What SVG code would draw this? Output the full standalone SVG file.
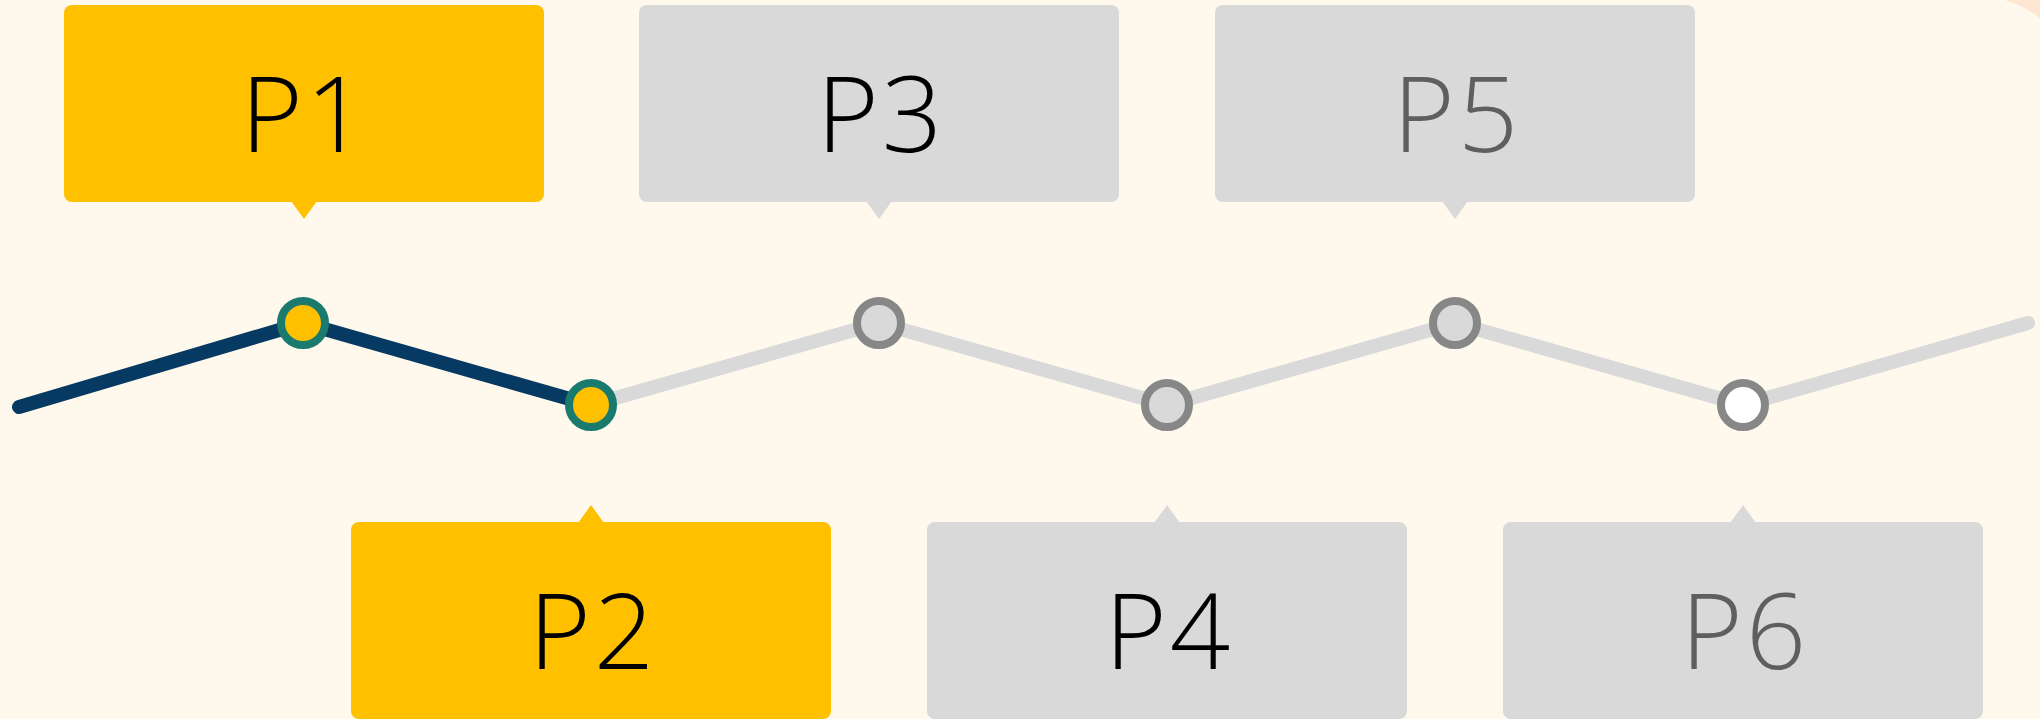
<svg xmlns="http://www.w3.org/2000/svg" width="2040" height="719" viewBox="0 0 2040 719">
<style>
.bg{fill:#fff8ed}
.box-on{fill:#ffc000}
.box-off{fill:#d9d9d9}
.lbl{font-family:"Open Sans","Noto Sans",sans-serif;font-weight:300;font-size:106px;letter-spacing:3px;text-anchor:middle}
.dark{fill:#000}
.dim{fill:#5f5f5f}
.ln-on{fill:none;stroke:#073a63;stroke-width:14;stroke-linecap:round;stroke-linejoin:round}
.ln-off{fill:none;stroke:#d9d9d9;stroke-width:14;stroke-linecap:round;stroke-linejoin:round}
.pt-on{fill:#ffc000;stroke:#1a7a6e;stroke-width:8}
.pt-off{fill:#d9d9d9;stroke:#878787;stroke-width:8}
.pt-last{fill:#ffffff;stroke:#878787;stroke-width:8}
</style>
<rect class="bg" x="0" y="0" width="2040" height="719"/>
<path d="M2005,0 L2040,0 L2040,18 Q2026,7 2005,0 Z" fill="#fde6d2"/>
<g id="connectors">
<polyline class="ln-on" points="19,407 303,323 591,405"/>
<polyline class="ln-off" points="591,405 879,323 1167,405 1455,323 1743,405 2028,323"/>
</g>
<g id="P1">
<rect class="box-on" x="64" y="5" width="480" height="197" rx="8"/>
<polygon class="box-on" points="291,201 317,201 304,219"/>
<text class="lbl dark" x="305" y="152">P1</text>
<circle class="pt-on" cx="303" cy="323" r="22"/>
</g>
<g id="P2">
<rect class="box-on" x="351" y="522" width="480" height="197" rx="8"/>
<polygon class="box-on" points="578,523 604,523 591,505"/>
<text class="lbl dark" x="593" y="669">P2</text>
<circle class="pt-on" cx="591" cy="405" r="22"/>
</g>
<g id="P3">
<rect class="box-off" x="639" y="5" width="480" height="197" rx="8"/>
<polygon class="box-off" points="866,201 892,201 879,219"/>
<text class="lbl dark" x="881" y="152">P3</text>
<circle class="pt-off" cx="879" cy="323" r="22"/>
</g>
<g id="P4">
<rect class="box-off" x="927" y="522" width="480" height="197" rx="8"/>
<polygon class="box-off" points="1154,523 1180,523 1167,505"/>
<text class="lbl dark" x="1169" y="669">P4</text>
<circle class="pt-off" cx="1167" cy="405" r="22"/>
</g>
<g id="P5">
<rect class="box-off" x="1215" y="5" width="480" height="197" rx="8"/>
<polygon class="box-off" points="1442,201 1468,201 1455,219"/>
<text class="lbl dim" x="1457" y="152">P5</text>
<circle class="pt-off" cx="1455" cy="323" r="22"/>
</g>
<g id="P6">
<rect class="box-off" x="1503" y="522" width="480" height="197" rx="8"/>
<polygon class="box-off" points="1730,523 1756,523 1743,505"/>
<text class="lbl dim" x="1745" y="669">P6</text>
<circle class="pt-last" cx="1743" cy="405" r="22"/>
</g>
</svg>
